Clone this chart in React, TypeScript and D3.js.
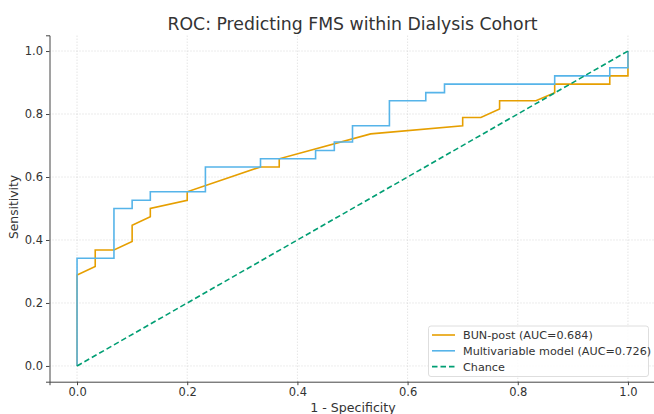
import React, { useEffect, useRef } from 'react'
import * as d3 from 'd3'

// ROC vertices (1 - specificity, sensitivity)
const bunFpr = [0, 0, 0.033, 0.033, 0.067, 0.1, 0.1, 0.133, 0.133, 0.2, 0.2, 0.333, 0.367, 0.367, 0.533, 0.7, 0.7, 0.733, 0.767, 0.767, 0.833, 0.867, 0.867, 0.967, 0.967, 1, 1]
const bunTpr = [0, 0.289, 0.316, 0.368, 0.368, 0.395, 0.447, 0.474, 0.5, 0.526, 0.553, 0.632, 0.632, 0.658, 0.737, 0.763, 0.789, 0.789, 0.816, 0.842, 0.842, 0.868, 0.895, 0.895, 0.921, 0.921, 1]

const mvFpr = [0, 0, 0.067, 0.067, 0.1, 0.1, 0.133, 0.133, 0.233, 0.233, 0.333, 0.333, 0.433, 0.433, 0.467, 0.467, 0.5, 0.5, 0.567, 0.567, 0.633, 0.633, 0.667, 0.667, 0.867, 0.867, 0.967, 0.967, 1, 1]
const mvTpr = [0, 0.342, 0.342, 0.5, 0.5, 0.526, 0.526, 0.553, 0.553, 0.632, 0.632, 0.658, 0.658, 0.684, 0.684, 0.711, 0.711, 0.763, 0.763, 0.842, 0.842, 0.868, 0.868, 0.895, 0.895, 0.921, 0.921, 0.947, 0.947, 1]

const chanceFpr = [0, 1]
const chanceTpr = [0, 1]

const ticks = [0, 0.2, 0.4, 0.6, 0.8, 1.0]

const seriesNames = ['BUN-post (AUC=0.684)', 'Multivariable model (AUC=0.726)', 'Chance']
const seriesColors = ['#E69F00', '#56B4E9', '#009E73']

const W = 654
const H = 414
const textColor = '#333333'
const font = '"DejaVu Sans", sans-serif'

export default function App() {
    const ref = useRef<SVGSVGElement>(null)

    useEffect(() => {
        const svg = d3.select(ref.current)
        svg.selectAll('*').remove()

        const x = d3.scaleLinear().domain([-0.05, 1.05]).range([49.5, 655.5])
        const y = d3.scaleLinear().domain([-0.05, 1.05]).range([381.7, 35.3])

        // grid
        const grid = svg.append('g')
        grid.selectAll('line.gx').data(ticks).enter().append('line')
            .attr('x1', d => x(d)).attr('x2', d => x(d))
            .attr('y1', y(-0.05)).attr('y2', y(1.05))
            .attr('stroke', '#cfcfcf').attr('stroke-width', 0.8)
            .attr('stroke-dasharray', '1,2')
        grid.selectAll('line.gy').data(ticks).enter().append('line')
            .attr('y1', d => y(d)).attr('y2', d => y(d))
            .attr('x1', x(-0.05)).attr('x2', x(1.05))
            .attr('stroke', '#cfcfcf').attr('stroke-width', 0.8)
            .attr('stroke-dasharray', '1,2')

        const line = d3.line<[number, number]>().x(d => x(d[0])).y(d => y(d[1]))
        const series: [number[], number[]][] = [[bunFpr, bunTpr], [mvFpr, mvTpr], [chanceFpr, chanceTpr]]

        series.forEach(([fx, ty], i) => {
            const pts = fx.map((v, j) => [v, ty[j]] as [number, number])
            svg.append('path')
                .attr('d', line(pts))
                .attr('fill', 'none')
                .attr('stroke', seriesColors[i])
                .attr('stroke-width', 1.6)
                .attr('stroke-dasharray', i === 2 ? '5.5,3' : null)
        })

        // axes
        const xAxis = svg.append('g').attr('transform', `translate(0,${y(-0.05)})`)
            .call(d3.axisBottom(x).tickValues(ticks).tickFormat(d3.format('.1f')).tickSizeOuter(0).tickSize(3.5).tickPadding(3))
        const yAxis = svg.append('g').attr('transform', `translate(${x(-0.05)},0)`)
            .call(d3.axisLeft(y).tickValues(ticks).tickFormat(d3.format('.1f')).tickSizeOuter(0).tickSize(3.5).tickPadding(3))
        ;[xAxis, yAxis].forEach(a => {
            a.select('.domain').attr('stroke', '#444').attr('stroke-width', 1)
            a.selectAll('.tick line').attr('stroke', '#444')
            a.selectAll('.tick text').attr('fill', textColor).style('font-family', font).style('font-size', '11.5px')
        })

        svg.append('text')
            .attr('x', 352.5).attr('y', 30)
            .attr('text-anchor', 'middle')
            .attr('fill', textColor)
            .style('font-family', font).style('font-size', '17.3px')
            .text('ROC: Predicting FMS within Dialysis Cohort')

        svg.append('text')
            .attr('x', 353).attr('y', 412)
            .attr('text-anchor', 'middle')
            .attr('fill', textColor)
            .style('font-family', font).style('font-size', '12.6px')
            .text('1 - Specificity')

        svg.append('text')
            .attr('transform', 'translate(18.3,207) rotate(-90)')
            .attr('text-anchor', 'middle')
            .attr('fill', textColor)
            .style('font-family', font).style('font-size', '12.3px')
            .text('Sensitivity')

        // legend
        const lg = svg.append('g')
        lg.append('rect')
            .attr('x', 428.5).attr('y', 326).attr('width', 220).attr('height', 50.5)
            .attr('rx', 2.5)
            .attr('fill', 'white').attr('fill-opacity', 0.85)
            .attr('stroke', '#d6d6d6').attr('stroke-width', 0.8)
        seriesNames.forEach((name, i) => {
            const cy = 335 + i * 15.8
            lg.append('line')
                .attr('x1', 432).attr('x2', 455).attr('y1', cy).attr('y2', cy)
                .attr('stroke', seriesColors[i]).attr('stroke-width', 1.6)
                .attr('stroke-dasharray', i === 2 ? '5.5,3' : null)
            lg.append('text')
                .attr('x', 463).attr('y', cy + 4)
                .attr('fill', textColor)
                .style('font-family', font).style('font-size', '11.2px')
                .text(name)
        })
    }, [])

    return (
        <div style={{ position: 'absolute', left: 0, top: 0 }}>
            <svg ref={ref} width={W} height={H} style={{ display: 'block', background: 'white' }} />
        </div>
    )
}
